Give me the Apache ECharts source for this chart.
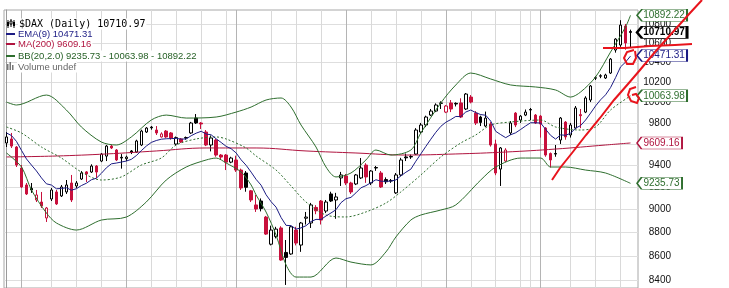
<!DOCTYPE html>
<html><head><meta charset="utf-8">
<script src="https://cdn.jsdelivr.net/npm/echarts@6/dist/echarts.min.js"></script>
<style>html,body{margin:0;padding:0;background:#fff}#c{width:729px;height:288px}</style>
</head><body><div id="c"></div>
<script>
const dates = [
'2014-07-29','2014-07-30','2014-07-31',
'2014-08-01','2014-08-04','2014-08-05','2014-08-06','2014-08-07','2014-08-08','2014-08-11','2014-08-12','2014-08-13','2014-08-14','2014-08-15','2014-08-18','2014-08-19','2014-08-20','2014-08-21','2014-08-22','2014-08-25','2014-08-26','2014-08-27','2014-08-28','2014-08-29',
'2014-09-01','2014-09-02','2014-09-03','2014-09-04','2014-09-05','2014-09-08','2014-09-09','2014-09-10','2014-09-11','2014-09-12','2014-09-15','2014-09-16','2014-09-17','2014-09-18','2014-09-19','2014-09-22','2014-09-23','2014-09-24','2014-09-25','2014-09-26','2014-09-29','2014-09-30',
'2014-10-01','2014-10-02','2014-10-06','2014-10-07','2014-10-08','2014-10-09','2014-10-10','2014-10-13','2014-10-14','2014-10-15','2014-10-16','2014-10-17','2014-10-20','2014-10-21','2014-10-22','2014-10-23','2014-10-24','2014-10-27','2014-10-28','2014-10-29','2014-10-30','2014-10-31',
'2014-11-03','2014-11-04','2014-11-05','2014-11-06','2014-11-07','2014-11-10','2014-11-11','2014-11-12','2014-11-13','2014-11-14','2014-11-17','2014-11-18','2014-11-19','2014-11-20','2014-11-21','2014-11-24','2014-11-25','2014-11-26','2014-11-27','2014-11-28',
'2014-12-01','2014-12-02','2014-12-03','2014-12-04','2014-12-05','2014-12-08','2014-12-09','2014-12-10','2014-12-11','2014-12-12','2014-12-15','2014-12-16','2014-12-17','2014-12-18','2014-12-19','2014-12-22','2014-12-23','2014-12-29','2014-12-30',
'2015-01-02','2015-01-05','2015-01-06','2015-01-07','2015-01-08','2015-01-09','2015-01-12','2015-01-13','2015-01-14','2015-01-15','2015-01-16','2015-01-19','2015-01-20','2015-01-21','2015-01-22','2015-01-23','2015-01-26','2015-01-27','2015-01-28'];

const opens = [9609,9647,9571,9376,9221,9190,9086,9068,8927,9095,
 9158,9122,9158,9239,9212,9275,9340,9339,9394,9440,
 9486,9580,9543,9475,9462,9534,9524,9590,9713,9760,
 9732,9666,9722,9704,9599,9647,9660,9704,9847,9799,
 9713,9590,9637,9496,9496,9430,9450,9357,9330,9168,
 9042,9077,8935,8700,8765,8840,8630,8617,8822,8693,
 8925,8883,9020,9077,8988,9140,9086,9285,9303,9239,
 9230,9285,9403,9239,9380,9330,9270,9257,9150,9312,
 9478,9482,9505,9713,9780,9876,9915,9990,9905,9994,
 9990,9994,9935,10052,9895,9857,9770,9790,9600,9366,
 9440,9704,9895,9828,9876,9930,9876,9866,9751,9510,
 9510,9637,9808,9685,9751,9880,9905,10023,10240,10260,
 10242,10292,10527,10579,10778,10720];
const closes = [9666,9580,9403,9203,9140,9176,9131,9033,9015,9176,
 9051,9203,9221,9086,9239,9330,9321,9394,9339,9505,
 9580,9562,9450,9468,9477,9520,9628,9722,9751,9753,
 9704,9695,9666,9656,9660,9618,9656,9799,9800,9790,
 9590,9656,9496,9477,9430,9468,9357,9194,9200,9086,
 9006,9010,8787,8822,8830,8566,8588,8850,8710,8883,
 8935,9042,8990,8909,9068,9077,9113,9312,9239,9158,
 9312,9376,9294,9348,9376,9203,9250,9262,9312,9450,
 9470,9478,9732,9780,9857,9915,9974,9994,9964,9935,
 9984,9857,10082,10003,9799,9805,9847,9590,9330,9562,
 9543,9799,9780,9866,9905,9925,9799,9790,9496,9450,
 9505,9847,9666,9780,9945,9870,10043,10162,10245,10265,
 10272,10434,10641,10788,10600,10710.97];
const highs = [9713,9704,9580,9403,9239,9239,9176,9158,9024,9194,
 9176,9221,9266,9312,9257,9348,9348,9410,9403,9515,
 9590,9590,9552,9505,9490,9543,9640,9735,9760,9770,
 9770,9710,9732,9713,9670,9656,9670,9810,9886,9808,
 9732,9680,9647,9505,9505,9480,9490,9370,9348,9176,
 9131,9100,8945,8860,8850,8855,8736,8860,8850,8892,
 8980,9060,9040,9086,9086,9160,9150,9340,9321,9250,
 9321,9468,9420,9357,9395,9348,9290,9275,9330,9470,
 9510,9500,9750,9800,9870,9935,9990,10010,9974,10023,
 10000,10040,10092,10072,9915,9870,9910,9808,9640,9571,
 9560,9818,9905,9876,9930,9945,9886,9876,9760,9520,
 9590,9857,9818,9800,9964,9935,10060,10172,10260,10280,
 10285,10445,10650,10840,10800,10740];
const lows = [9571,9562,9385,9194,9131,9150,9068,9015,8892,9077,
 9042,9113,9140,9068,9194,9266,9248,9330,9285,9430,
 9440,9552,9440,9370,9440,9505,9515,9580,9704,9735,
 9685,9660,9657,9640,9590,9609,9640,9695,9790,9742,
 9580,9530,9480,9450,9357,9420,9340,9176,9160,9068,
 8980,8985,8780,8690,8750,8560,8359,8610,8690,8635,
 8870,8840,8960,8870,8970,9068,8920,9212,9220,9140,
 9220,9275,9240,9220,9350,9194,9230,9240,9140,9300,
 9440,9460,9496,9704,9760,9866,9905,9935,9895,9905,
 9960,9847,9925,9990,9780,9770,9760,9575,9310,9212,
 9430,9685,9760,9800,9866,9828,9790,9660,9480,9380,
 9480,9600,9640,9660,9740,9750,9895,10003,10222,10240,
 10232,10282,10500,10560,10530,10557];

// EMA(9) value at the first visible bar
const emaSeed = 9704;

// Bollinger band and MA(200) readings (bar index, value)
const bbUpperIdx = [0,2,8,12,15,19,22,25,29,32,36,42,46,49,52,55,57,59,62,64,66,69,72,74,77,81,83,87,90,93,97,101,106,110,113,115,118,121,124,125];
const bbUpper = [10003,9974,10072,9925,9761,9618,9590,9666,9828,9876,9847,9857,9905,9954,10023,10043,9954,9780,9571,9385,9294,9330,9450,9543,9496,9543,9704,9994,10172,10292,10232,10172,10152,10122,10052,10102,10252,10506,10767,10892.22];
const bbLowerIdx = [0,3,5,8,10,14,19,24,28,32,36,40,42,44,47,49,50,52,54,56,58,61,66,69,73,76,78,81,83,87,90,95,98,103,107,109,112,116,120,125];
const bbLower = [9515,9385,9176,8971,8883,8822,8909,8935,9068,9266,9385,9450,9468,9422,9339,9221,9131,8979,8779,8525,8424,8424,8583,8549,8525,8634,8762,8909,8953,8997,9042,9266,9385,9468,9468,9385,9385,9357,9330,9235.73];
const bbMidIdx = [0,3,7,11,15,19,23,27,31,34,38,42,44,48,50,54,57,60,64,68,72,76,79,83,87,91,94,97,101,107,110,115,118,121,125];
const bbMid = [9761,9704,9571,9468,9339,9266,9294,9403,9468,9590,9647,9666,9647,9562,9487,9357,9212,9068,8953,8936,8980,9059,9158,9312,9478,9609,9685,9780,9809,9828,9761,9732,9761,9925,10063.98];
const ma200Idx = [0,10,20,30,40,50,60,70,80,90,100,110,120,125];
const ma200 = [9478,9487,9506,9534,9562,9562,9534,9515,9496,9506,9524,9552,9590,9609.16];

const yTicks = [8400,8600,8800,9000,9200,9400,9600,9800,10000,10200,10400,10600,10800];
const monthIdx = [3,24,46,68,88,107];
const weekIdx = [9,14,19,29,34,39,44,53,58,63,73,78,83,93,98,103,105,113,118,123];

const yMin = 8334, yMax = 10949;

const RED = '#c8103c', BLK = '#000000';
const EMA_C = '#1c1c84', MA_C = '#b0143f', BB_C = '#2e6e2e';

// derived: EMA(9)
const ema = [];
closes.forEach((c, i) => { ema.push(i === 0 ? emaSeed : +(ema[i-1] + 0.2 * (c - ema[i-1])).toFixed(2)); });

// split candles by colour rule (close vs previous close)
const blackData = [], redData = [];
closes.forEach((c, i) => {
  const item = [opens[i], c, lows[i], highs[i]];
  const isRed = i > 0 && c < closes[i-1];
  blackData.push(isRed ? '-' : item);
  redData.push(isRed ? item : '-');
});

const pairs = (idx, vals) => idx.map((k, i) => [k, vals[i]]);
const last = dates.length - 1;
const tagPath = 'path://M0,6 L6,0 L60,0 L60,12 L6,12 Z';
function tag(value, color, w, bold) {
  return {
    coord: [last, value], value: value,
    symbol: tagPath, symbolSize: [w, 12], symbolOffset: [6.5 + w / 2, 0],
    itemStyle: { color: '#fff', borderColor: color, borderWidth: bold ? 1.5 : 1 },
    label: { show: true, position: 'inside', offset: [2, 0], formatter: String(value.toFixed(2)),
      color: color, fontSize: 10, fontWeight: bold ? 'bold' : 'normal', fontFamily: 'Liberation Sans, Arial, sans-serif' }
  };
}
function mp(items) { return { silent: true, animation: false, data: items }; }

const lineBase = { type: 'line', symbol: 'none', silent: true, clip: false, animation: false, xAxisIndex: 0, yAxisIndex: 0 };
const legendFont = '9.5px "Liberation Sans", Arial, sans-serif';
function legendText(text, y, fill) {
  return { type: 'text', z: 20, x: 17, y: y, style: { text: text, font: legendFont, fill: fill, verticalAlign: 'middle', backgroundColor: '#fff', padding: [1, 1, 0, 1] } };
}

const option = {
  animation: false,
  backgroundColor: '#fff',
  grid: { left: 4, right: 91, top: 10, bottom: 0, show: true, borderColor: '#a8a8a8', borderWidth: 1, backgroundColor: '#fff' },
  xAxis: [
    { type: 'category', data: dates, boundaryGap: true, max: dates.length,
      axisLine: { show: false }, axisTick: { show: false }, axisLabel: { show: false }, splitLine: { show: false } },
    { type: 'value', min: -0.5, max: dates.length + 0.5,
      axisLine: { show: false }, axisLabel: { show: false },
      axisTick: { show: false, customValues: weekIdx },
      splitLine: { show: true, lineStyle: { color: '#d9d9d9', width: 1 } } },
    { type: 'value', min: -0.5, max: dates.length + 0.5,
      axisLine: { show: false }, axisLabel: { show: false },
      axisTick: { show: false, customValues: monthIdx },
      splitLine: { show: true, lineStyle: { color: '#b4b4b4', width: 1 } } }
  ],
  yAxis: [
    { type: 'log', logBase: 10, min: yMin, max: yMax, position: 'right',
      axisLine: { show: false }, axisTick: { show: false }, axisLabel: { show: false }, splitLine: { show: false } },
    { type: 'value', min: Math.log(yMin), max: Math.log(yMax), position: 'right',
      axisLine: { show: true, lineStyle: { color: '#9a9a9a' } },
      axisTick: { show: false, customValues: yTicks.map(Math.log) },
      axisLabel: { customValues: yTicks.map(Math.log), formatter: v => String(Math.round(Math.exp(v))),
        align: 'right', margin: 33, fontSize: 10, color: '#111', fontFamily: 'Liberation Sans, Arial, sans-serif' },
      splitLine: { show: true, lineStyle: { color: '#dedede', width: 1 } } }
  ],
  series: [
    { type: 'candlestick', name: 'black', data: blackData, barWidth: 3, clip: false, silent: true, z: 3,
      itemStyle: { color: '#fff', color0: BLK, borderColor: BLK, borderColor0: BLK, borderWidth: 1 },
      markPoint: mp([tag(closes[last], BLK, 50, true)]) },
    { type: 'candlestick', name: 'red', data: redData, barWidth: 3, clip: false, silent: true, z: 3,
      itemStyle: { color: '#fff', color0: RED, borderColor: RED, borderColor0: RED, borderWidth: 1 } },
    Object.assign({}, lineBase, { name: 'MA200', data: pairs(ma200Idx, ma200), smooth: 0.4, z: 4,
      lineStyle: { color: MA_C, width: 1 }, markPoint: mp([tag(ma200[ma200.length-1], MA_C, 45, false)]) }),
    Object.assign({}, lineBase, { name: 'BBU', data: pairs(bbUpperIdx, bbUpper), smooth: 0.3, z: 4,
      lineStyle: { color: BB_C, width: 1 }, markPoint: mp([tag(bbUpper[bbUpper.length-1], BB_C, 50, false)]) }),
    Object.assign({}, lineBase, { name: 'BBL', data: pairs(bbLowerIdx, bbLower), smooth: 0.3, z: 4,
      lineStyle: { color: BB_C, width: 1 }, markPoint: mp([tag(bbLower[bbLower.length-1], BB_C, 45, false)]) }),
    Object.assign({}, lineBase, { name: 'BBM', data: pairs(bbMidIdx, bbMid), smooth: 0.3, z: 4,
      lineStyle: { color: BB_C, width: 1, type: [2, 2] }, markPoint: mp([tag(bbMid[bbMid.length-1], BB_C, 50, false)]) }),
    Object.assign({}, lineBase, { name: 'EMA9', data: ema, z: 5,
      lineStyle: { color: EMA_C, width: 1 }, markPoint: mp([tag(10471.31, EMA_C, 50, false)]) })
  ],
  graphic: [
    // title icon
    { type: 'line', z: 20, shape: { x1: 8, y1: 20, x2: 8, y2: 28 }, style: { stroke: '#000', lineWidth: 1 } },
    { type: 'rect', z: 20, shape: { x: 7, y: 22, width: 2, height: 4 }, style: { fill: '#000' } },
    { type: 'line', z: 20, shape: { x1: 11, y1: 19, x2: 11, y2: 27 }, style: { stroke: '#000', lineWidth: 1 } },
    { type: 'rect', z: 20, shape: { x: 10, y: 21, width: 2, height: 3 }, style: { fill: '#fff', stroke: '#000', lineWidth: 1 } },
    { type: 'line', z: 20, shape: { x1: 14, y1: 20, x2: 14, y2: 28 }, style: { stroke: '#000', lineWidth: 1 } },
    { type: 'rect', z: 20, shape: { x: 13, y: 22, width: 2, height: 4 }, style: { fill: '#000' } },
    { type: 'text', z: 20, x: 18, y: 24, style: { text: '$DAX (Daily) 10710.97', font: '10px "DejaVu Sans Mono", monospace', fill: '#000', verticalAlign: 'middle', backgroundColor: '#fff', padding: [1, 1, 0, 1] } },
    { type: 'rect', z: 20, shape: { x: 6, y: 33, width: 9, height: 2 }, style: { fill: EMA_C } },
    legendText('EMA(9) 10471.31', 34.5, EMA_C),
    { type: 'rect', z: 20, shape: { x: 6, y: 43, width: 9, height: 2 }, style: { fill: MA_C } },
    legendText('MA(200) 9609.16', 44.5, MA_C),
    { type: 'rect', z: 20, shape: { x: 6, y: 55, width: 9, height: 2 }, style: { fill: BB_C } },
    legendText('BB(20,2.0) 9235.73 - 10063.98 - 10892.22', 56, '#245f24'),
    { type: 'rect', z: 20, shape: { x: 7, y: 64, width: 1.5, height: 6 }, style: { fill: '#777' } },
    { type: 'rect', z: 20, shape: { x: 9.5, y: 62, width: 1.5, height: 8 }, style: { fill: '#777' } },
    { type: 'rect', z: 20, shape: { x: 12, y: 65, width: 1.5, height: 5 }, style: { fill: '#777' } },
    legendText('Volume undef', 67, '#666'),
    // hand-drawn red annotations
    { type: 'polyline', z: 100, shape: { points: [[552,180],[560,168],[572,153],[586,135],[600,118],[614,100],[628,84],[640,70],[655,52],[672,33],[690,13],[702,0]] },
      style: { stroke: '#e8141c', lineWidth: 2, fill: null } },
    { type: 'polyline', z: 100, shape: { points: [[603,48],[625,48],[650,46],[675,45],[692,44]] },
      style: { stroke: '#e8141c', lineWidth: 2, fill: null } },
    { type: 'polyline', z: 100, shape: { points: [[634,50],[627,52],[624,58],[627,64],[633,64],[636,58],[635,51]] },
      style: { stroke: '#e8141c', lineWidth: 2, fill: null } },
    { type: 'polyline', z: 100, shape: { points: [[636,87],[630,89],[628,95],[631,101],[637,103],[639,98],[636,94],[632,95]] },
      style: { stroke: '#e8141c', lineWidth: 2, fill: null } }
  ]
};
const chart = echarts.init(document.getElementById('c'));
chart.setOption(option);
</script></body></html>
